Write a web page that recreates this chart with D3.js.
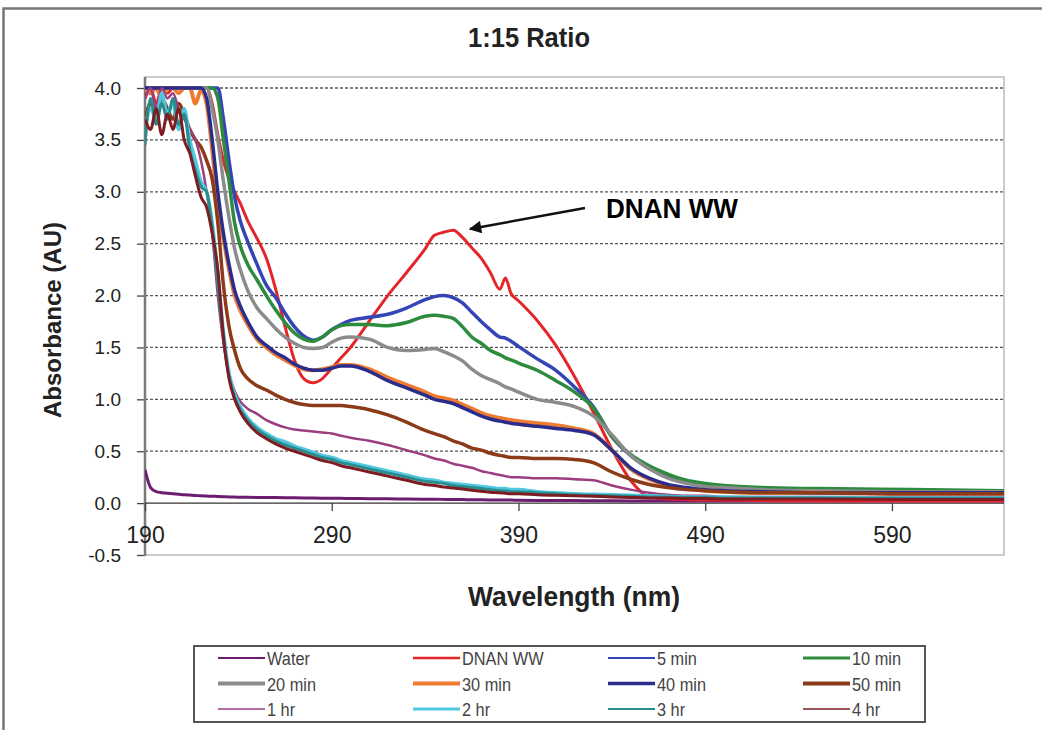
<!DOCTYPE html>
<html>
<head>
<meta charset="utf-8">
<script src="https://cdn.jsdelivr.net/npm/d3@7"></script>
<style>
  body { margin: 0; background: #fff; }
  svg { display: block; font-family: Arial, "Liberation Sans", sans-serif; }
</style>
</head>
<body>
<svg id="chart" width="1042" height="730"></svg>
<script>
// wavelength grid (nm) shared by every series
var wavelengths = [190,193,196,199,202,205,208,211,214,217,
  220,223,226,229,232,235,238,241,245,250,
  255,260,265,270,275,280,285,290,295,300,
  310,320,330,340,345,350,355,360,365,370,
  375,380,383,386,390,400,410,420,430,440,
  450,460,470,480,490,500,520,550,600,650];

var water = [0.32,0.15,0.11,0.10,0.095,0.09,0.085,0.08,0.077,0.074,
  0.07,0.068,0.066,0.064,0.062,0.06,0.058,0.057,0.056,0.055,
  0.054,0.053,0.052,0.051,0.05,0.049,0.048,0.047,0.046,0.045,
  0.043,0.041,0.04,0.038,0.037,0.036,0.035,0.034,0.033,0.032,
  0.031,0.03,0.03,0.029,0.028,0.026,0.025,0.024,0.023,0.022,
  0.021,0.02,0.02,0.02,0.02,0.02,0.02,0.02,0.02,0.02];

var dnanWW = [3.90,4.00,3.85,4.00,3.95,4.00,4.00,4.00,4.00,4.00,
  4.00,4.00,3.85,3.55,3.30,3.12,3.00,2.89,2.72,2.55,
  2.36,2.06,1.70,1.38,1.20,1.16,1.20,1.30,1.40,1.50,
  1.75,2.00,2.22,2.45,2.58,2.61,2.63,2.56,2.46,2.36,
  2.22,2.06,2.17,2.02,1.95,1.76,1.52,1.22,0.88,0.52,
  0.22,0.06,0.04,0.035,0.03,0.03,0.025,0.02,0.02,0.02];

var min5 = [4,4,4,4,4,4,4,4,4,4,
  4,4,4,4,3.7,3.3,2.95,2.72,2.52,2.3,
  2.1,1.98,1.83,1.7,1.61,1.57,1.6,1.67,1.72,1.76,
  1.79,1.82,1.88,1.96,1.99,2.0,1.98,1.93,1.84,1.75,
  1.67,1.6,1.59,1.56,1.51,1.39,1.28,1.12,0.93,0.64,
  0.46,0.34,0.26,0.21,0.18,0.16,0.14,0.13,0.12,0.12];

var min10 = [4,4,4,4,4,4,4,4,4,4,
  4,4,4,3.9,3.5,3.1,2.7,2.48,2.3,2.15,
  2.0,1.86,1.74,1.64,1.58,1.56,1.6,1.67,1.71,1.72,
  1.72,1.71,1.74,1.8,1.81,1.8,1.78,1.7,1.6,1.54,
  1.47,1.43,1.4,1.38,1.35,1.28,1.18,1.07,0.92,0.64,
  0.47,0.36,0.28,0.22,0.19,0.17,0.15,0.14,0.13,0.12];

var min20 = [4,4,4,4,4,4,4,4,4,4,
  4,4,3.8,3.5,3.1,2.75,2.45,2.25,2.05,1.88,
  1.78,1.68,1.6,1.54,1.5,1.49,1.5,1.55,1.59,1.6,
  1.58,1.5,1.47,1.48,1.49,1.46,1.42,1.37,1.29,1.23,
  1.19,1.15,1.12,1.1,1.07,1.0,0.97,0.93,0.84,0.66,
  0.46,0.33,0.24,0.19,0.16,0.15,0.13,0.12,0.11,0.11];

var min30 = [4,3.95,4,3.9,4,4,3.95,4,4,3.85,
  3.98,3.85,3.4,2.9,2.55,2.25,2.0,1.86,1.72,1.58,
  1.5,1.43,1.38,1.33,1.29,1.28,1.29,1.31,1.33,1.33,
  1.29,1.21,1.14,1.07,1.03,1.01,0.99,0.95,0.91,0.87,
  0.84,0.82,0.81,0.8,0.79,0.77,0.75,0.72,0.67,0.51,
  0.33,0.23,0.17,0.14,0.12,0.11,0.1,0.1,0.09,0.09];

var min40 = [4,4,4,4,4,4,4,4,4,4,
  4,3.9,3.5,3.0,2.6,2.3,2.05,1.9,1.75,1.6,
  1.52,1.45,1.4,1.34,1.3,1.28,1.28,1.3,1.32,1.32,
  1.27,1.18,1.11,1.04,1.0,0.98,0.96,0.92,0.88,0.84,
  0.81,0.79,0.78,0.77,0.76,0.74,0.72,0.7,0.66,0.51,
  0.34,0.24,0.18,0.15,0.13,0.12,0.11,0.1,0.1,0.1];

var min50 = [3.7,3.85,3.75,3.9,3.8,3.7,3.85,3.75,3.6,3.5,
  3.43,3.3,3.12,2.7,2.1,1.7,1.47,1.3,1.2,1.13,
  1.09,1.04,1.0,0.97,0.95,0.94,0.94,0.94,0.94,0.93,
  0.9,0.85,0.78,0.7,0.67,0.64,0.6,0.57,0.53,0.51,
  0.48,0.46,0.45,0.44,0.44,0.43,0.43,0.42,0.39,0.3,
  0.23,0.18,0.15,0.13,0.12,0.11,0.1,0.1,0.09,0.09];

var hr1 = [3.9,4,3.8,4,3.9,3.95,3.8,3.7,3.6,3.5,
  3.3,3.0,2.6,2.0,1.55,1.25,1.08,0.98,0.91,0.86,
  0.8,0.76,0.73,0.71,0.7,0.69,0.68,0.67,0.65,0.63,
  0.6,0.56,0.51,0.46,0.43,0.41,0.38,0.36,0.34,0.31,
  0.29,0.27,0.26,0.25,0.25,0.24,0.24,0.23,0.22,0.17,
  0.13,0.1,0.08,0.07,0.07,0.06,0.06,0.06,0.06,0.06];

var hr2 = [3.6,3.8,3.7,3.95,3.75,3.85,3.6,3.8,3.5,3.3,
  3.1,3.0,2.7,2.2,1.65,1.25,1.05,0.93,0.82,0.73,
  0.67,0.62,0.59,0.55,0.52,0.49,0.46,0.44,0.41,0.39,
  0.35,0.31,0.27,0.23,0.22,0.2,0.19,0.18,0.17,0.16,
  0.15,0.14,0.14,0.13,0.13,0.11,0.1,0.09,0.085,0.08,
  0.075,0.07,0.065,0.06,0.06,0.06,0.055,0.055,0.05,0.05];

var hr3 = [3.45,3.9,3.65,3.85,3.7,3.9,3.65,3.75,3.4,3.2,
  3.05,3.0,2.65,2.1,1.6,1.22,1.02,0.9,0.8,0.71,
  0.65,0.6,0.56,0.53,0.5,0.47,0.44,0.42,0.39,0.37,
  0.33,0.29,0.25,0.21,0.2,0.19,0.17,0.16,0.15,0.14,
  0.13,0.12,0.12,0.11,0.11,0.1,0.09,0.08,0.075,0.07,
  0.065,0.06,0.06,0.055,0.055,0.05,0.05,0.05,0.045,0.045];

var hr4 = [3.7,3.6,3.8,3.55,3.75,3.6,3.8,3.5,3.37,3.15,
  2.95,2.85,2.6,2.25,1.6,1.2,1.0,0.88,0.77,0.68,
  0.62,0.57,0.53,0.5,0.47,0.44,0.41,0.39,0.36,0.34,
  0.3,0.26,0.22,0.18,0.17,0.155,0.145,0.135,0.125,0.115,
  0.105,0.1,0.095,0.09,0.09,0.08,0.075,0.07,0.065,0.06,
  0.055,0.05,0.05,0.045,0.045,0.04,0.04,0.04,0.035,0.035];

var seriesNames = ["Water", "DNAN WW", "5 min", "10 min", "20 min", "30 min",
  "40 min", "50 min", "1 hr", "2 hr", "3 hr", "4 hr"];
var seriesValues = [water, dnanWW, min5, min10, min20, min30,
  min40, min50, hr1, hr2, hr3, hr4];

var xTicks = [190, 290, 390, 490, 590];
var yTicks = [-0.5, 0, 0.5, 1, 1.5, 2, 2.5, 3, 3.5, 4];

// styles
var seriesColors = ["#6c1d70", "#e4262b", "#3446b6", "#2d8b3d", "#8b8b8b", "#ef7b31",
  "#2b2d8c", "#8c3b19", "#9c3d7f", "#52c7e1", "#2a8d8d", "#7d1c23"];
var lineWidths = [3, 3, 3.5, 3.5, 3.5, 4, 3.5, 3.5, 2.5, 3.5, 3, 3];
var legendWidths = [2, 2.5, 2, 3, 4, 4, 3.5, 4, 1.5, 3, 2, 1.5];

var svg = d3.select("#chart");
var plot = { left: 145, right: 1004, top: 77, bottom: 555 };

var x = d3.scaleLinear().domain([190, 650]).range([plot.left, plot.right]);
var y = d3.scaleLinear().domain([-0.5, 4]).range([555, 88]);

// squeeze a text horizontally so it spans the measured width
var fitText = function (sel, width) {
  var w = sel.node().getComputedTextLength();
  var k = width / w;
  var tx = +sel.attr("x"), ty = +sel.attr("y");
  sel.attr("x", 0).attr("y", 0)
    .attr("transform", "translate(" + tx + "," + ty + ") scale(" + k + ",1)");
  return sel;
};

// outer frame (left and top edge visible)
svg.append("path")
  .attr("d", "M3.5,730 V8.5 H1042")
  .attr("fill", "none")
  .attr("stroke", "#777")
  .attr("stroke-width", 2.5);

// plot area border
svg.append("rect")
  .attr("x", plot.left)
  .attr("y", plot.top)
  .attr("width", plot.right - plot.left)
  .attr("height", plot.bottom - plot.top)
  .attr("fill", "none")
  .attr("stroke", "#bdbdbd")
  .attr("stroke-width", 1.5);

// dashed gridlines
svg.append("g")
  .selectAll("line")
  .data(yTicks.filter(function (d) { return d > 0; }))
  .enter()
  .append("line")
  .attr("x1", plot.left)
  .attr("x2", plot.right)
  .attr("y1", function (d) { return y(d); })
  .attr("y2", function (d) { return y(d); })
  .attr("stroke", "#555")
  .attr("stroke-width", 1.3)
  .attr("stroke-dasharray", "3,2");

// y axis
var yAxis = d3.axisLeft(y)
  .tickValues(yTicks)
  .tickSize(8)
  .tickPadding(16)
  .tickFormat(function (d) { return d3.format(".1f")(d).replace("\u2212", "-"); });

var yG = svg.append("g")
  .attr("transform", "translate(" + plot.left + ",0)")
  .call(yAxis);
yG.select(".domain").remove();
yG.selectAll(".tick line").attr("stroke", "#444").attr("stroke-width", 1.3);
yG.selectAll(".tick text")
  .attr("fill", "#222")
  .style("font-size", "19px")
  .style("font-family", "Arial, 'Liberation Sans', sans-serif");

svg.append("line")
  .attr("x1", plot.left)
  .attr("x2", plot.left)
  .attr("y1", plot.top)
  .attr("y2", plot.bottom + 1)
  .attr("stroke", "#7a7a7a")
  .attr("stroke-width", 2.5);

// x axis at zero
var xAxis = d3.axisBottom(x)
  .tickValues(xTicks)
  .tickSize(8)
  .tickPadding(16)
  .tickFormat(d3.format("d"));

var xG = svg.append("g")
  .attr("transform", "translate(0," + y(0) + ")")
  .call(xAxis);
xG.select(".domain").remove();
xG.selectAll(".tick line").attr("stroke", "#444").attr("stroke-width", 1.3);
xG.selectAll(".tick text")
  .attr("fill", "#222")
  .style("font-size", "23px")
  .style("font-family", "Arial, 'Liberation Sans', sans-serif");

svg.append("line")
  .attr("x1", plot.left)
  .attr("x2", plot.right)
  .attr("y1", y(0))
  .attr("y2", y(0))
  .attr("stroke", "#333")
  .attr("stroke-width", 1.3);

// series lines
svg.append("clipPath")
  .attr("id", "clip")
  .append("rect")
  .attr("x", plot.left)
  .attr("y", plot.top)
  .attr("width", plot.right - plot.left)
  .attr("height", plot.bottom - plot.top);

var line = d3.line()
  .x(function (d) { return x(d[0]); })
  .y(function (d) { return y(d[1]); })
  .curve(d3.curveMonotoneX);

svg.append("g")
  .attr("clip-path", "url(#clip)")
  .selectAll("path")
  .data(seriesValues)
  .enter()
  .append("path")
  .attr("d", function (vals) {
    return line(vals.map(function (v, i) { return [wavelengths[i], v]; }));
  })
  .attr("fill", "none")
  .attr("stroke", function (d, i) { return seriesColors[i]; })
  .attr("stroke-width", function (d, i) { return lineWidths[i]; })
  .attr("stroke-linejoin", "round");

// title and axis titles
fitText(svg.append("text")
  .attr("x", 529)
  .attr("y", 47)
  .attr("text-anchor", "middle")
  .attr("font-weight", "bold")
  .attr("font-size", 27)
  .attr("fill", "#222")
  .text("1:15 Ratio"), 122);

fitText(svg.append("text")
  .attr("x", 574)
  .attr("y", 606)
  .attr("text-anchor", "middle")
  .attr("font-weight", "bold")
  .attr("font-size", 27)
  .attr("fill", "#222")
  .text("Wavelength (nm)"), 212);

svg.append("text")
  .attr("transform", "translate(61,320) rotate(-90)")
  .attr("text-anchor", "middle")
  .attr("font-weight", "bold")
  .attr("font-size", 24)
  .attr("fill", "#222")
  .text("Absorbance (AU)");

// annotation
svg.append("defs")
  .append("marker")
  .attr("id", "arrow")
  .attr("viewBox", "0 0 10 10")
  .attr("refX", 9)
  .attr("refY", 5)
  .attr("markerWidth", 6)
  .attr("markerHeight", 5)
  .attr("orient", "auto")
  .append("path")
  .attr("d", "M0,0 L10,5 L0,10 Z")
  .attr("fill", "#111");

svg.append("line")
  .attr("x1", 585)
  .attr("y1", 208)
  .attr("x2", 470)
  .attr("y2", 229)
  .attr("stroke", "#111")
  .attr("stroke-width", 2.5)
  .attr("marker-end", "url(#arrow)");

fitText(svg.append("text")
  .attr("x", 606)
  .attr("y", 218)
  .attr("font-weight", "bold")
  .attr("font-size", 27)
  .attr("fill", "#000")
  .text("DNAN WW"), 132);

// legend
svg.append("rect")
  .attr("x", 194)
  .attr("y", 646)
  .attr("width", 731)
  .attr("height", 76)
  .attr("fill", "#fff")
  .attr("stroke", "#555")
  .attr("stroke-width", 2);

var legend = svg.append("g")
  .selectAll("g")
  .data(seriesNames)
  .enter()
  .append("g")
  .attr("transform", function (d, i) {
    return "translate(" + (218 + (i % 4) * 195) + "," + (658 + Math.floor(i / 4) * 25.5) + ")";
  });

legend.append("line")
  .attr("x1", 0)
  .attr("x2", 47)
  .attr("stroke", function (d, i) { return seriesColors[i]; })
  .attr("stroke-width", function (d, i) { return legendWidths[i]; });

legend.append("text")
  .attr("transform", "translate(49,7) scale(0.86,1)")
  .attr("font-size", 19)
  .attr("font-weight", "normal")
  .attr("fill", "#444")
  .text(function (d) { return d; });
</script>
</body>
</html>
